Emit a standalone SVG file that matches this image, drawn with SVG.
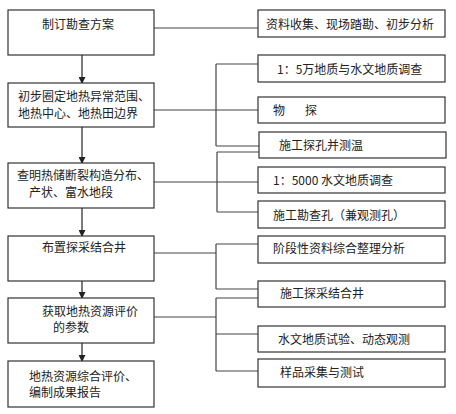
<svg xmlns="http://www.w3.org/2000/svg" width="456" height="414" viewBox="0 0 456 414">
<defs>
<marker id="arr" markerWidth="7" markerHeight="7" refX="6" refY="3.5" orient="auto" markerUnits="userSpaceOnUse">
<path d="M0,0 L7,3.5 L0,7 Z" fill="#222"/>
</marker>
<style>
rect{fill:#fff;stroke:#333;stroke-width:1.2}
text{font-family:"Noto Sans CJK SC","Noto Sans",sans-serif;font-size:12px;fill:#222}
.c{fill:none;stroke:#444;stroke-width:1.2}
.a{fill:none;stroke:#222;stroke-width:1.2;marker-end:url(#arr)}
</style>
</defs>
<rect x="0" y="0" width="456" height="414" style="fill:#fff;stroke:none"/>
<g id="connectors">
<path class="c" d="M154,28 H258"/>
<path class="c" d="M154,110 H258 M216,64 V146 M216,64 H258 M216,146 H259"/>
<path class="c" d="M154,182 H258 M217,152 V212 M217,152 H259 M217,212 H258"/>
<path class="c" d="M154,253 H216 M216,244 V289 M216,244 H258 M216,289 H258"/>
<path class="c" d="M154,317 H216 M216,298 V371 M216,298 H258 M216,334 H258 M216,371 H258"/>
<path class="a" d="M82,55 V83"/>
<path class="a" d="M82,127 V163"/>
<path class="a" d="M82,208 V236"/>
<path class="a" d="M82,281 V298"/>
<path class="a" d="M82,343 V361"/>
</g>
<g id="n1"><rect x="8" y="10" width="146" height="45"/><text x="42" y="29">制订勘查方案</text></g>
<g id="n2"><rect x="8" y="83" width="146" height="44"/><text x="18" y="101">初步圈定地热异常范围、</text><text x="18" y="118">地热中心、地热田边界</text></g>
<g id="n3"><rect x="8" y="163" width="146" height="45"/><text x="17" y="180">查明热储断裂构造分布、</text><text x="29" y="197">产状、富水地段</text></g>
<g id="n4"><rect x="8" y="236" width="146" height="45"/><text x="42" y="252">布置探采结合井</text></g>
<g id="n5"><rect x="8" y="298" width="146" height="45"/><text x="42" y="316">获取地热资源评价</text><text x="53" y="332">的参数</text></g>
<g id="n6"><rect x="8" y="361" width="146" height="46"/><text x="29" y="381">地热资源综合评价、</text><text x="29" y="397">编制成果报告</text></g>
<g id="r1"><rect x="258" y="10" width="187" height="27"/><text x="266" y="29">资料收集、现场踏勘、初步分析</text></g>
<g id="r2"><rect x="258" y="55" width="187" height="27"/><text x="277" y="74">1：5万地质与水文地质调查</text></g>
<g id="r3"><rect x="258" y="97" width="187" height="26"/><text x="273" y="115">物<tspan x="305">探</tspan></text></g>
<g id="r4"><rect x="259" y="132" width="187" height="26"/><text x="279" y="150">施工探孔并测温</text></g>
<g id="r5"><rect x="258" y="167" width="187" height="26"/><text x="273" y="185">1：5000 水文地质调查</text></g>
<g id="r6"><rect x="258" y="201" width="187" height="27"/><text x="273" y="220">施工勘查孔（兼观测孔）</text></g>
<g id="r7"><rect x="258" y="236" width="187" height="27"/><text x="273" y="253">阶段性资料综合整理分析</text></g>
<g id="r8"><rect x="258" y="281" width="187" height="26"/><text x="280" y="298">施工探采结合井</text></g>
<g id="r9"><rect x="258" y="326" width="187" height="26"/><text x="278" y="344">水文地质试验、动态观测</text></g>
<g id="r10"><rect x="258" y="359" width="187" height="28"/><text x="280" y="377">样品采集与测试</text></g>
</svg>
